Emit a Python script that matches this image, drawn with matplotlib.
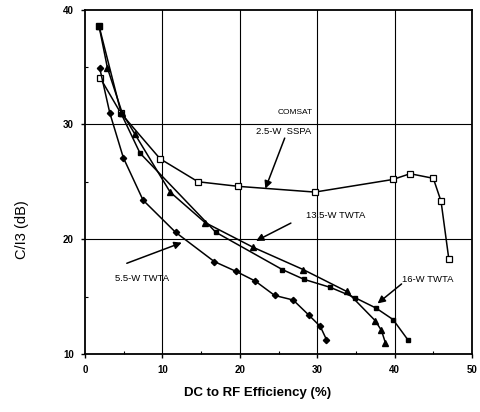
import matplotlib
matplotlib.use("Agg")
import matplotlib.pyplot as plt

plt.rcParams["font.family"] = ["Liberation Sans", "DejaVu Sans"]

# 2.5-W SSPA (open squares)
sspa_x = [2.0, 4.6, 9.7, 14.6, 19.8, 29.7, 39.8, 42.0, 45.0, 46.0, 47.0]
sspa_y = [34.0, 31.0, 27.0, 25.0, 24.6, 24.1, 25.2, 25.7, 25.3, 23.3, 18.3]

# 5.5-W TWTA (filled diamonds)
t55_x = [1.9, 3.2, 4.95, 7.5, 11.7, 16.7, 19.5, 22.0, 24.5, 26.9, 28.9, 30.4, 31.2]
t55_y = [34.9, 31.0, 27.1, 23.4, 20.6, 18.05, 17.2, 16.35, 15.1, 14.7, 13.4, 12.4, 11.25]

# 13.5-W TWTA (filled triangles)
t135_x = [1.8, 2.9, 4.8, 6.4, 11.0, 15.5, 21.7, 28.2, 33.8, 37.5, 38.3, 38.8]
t135_y = [38.6, 34.9, 31.0, 29.2, 24.1, 21.45, 19.3, 17.35, 15.45, 12.9, 12.05, 11.0]

# 16-W TWTA (filled squares)
t16_x = [1.8, 4.7, 7.1, 16.9, 25.5, 28.3, 31.7, 34.9, 37.6, 39.8, 41.7]
t16_y = [38.6, 30.9, 27.5, 20.6, 17.35, 16.5, 15.8, 14.9, 14.0, 13.0, 11.25]

# label text, text position, arrow tip, arrow start
labels = [
    ("2.5-W  SSPA", (25.7, 29.4), (23.3, 24.4), (25.8, 28.8)),
    ("13.5-W TWTA", (32.4, 22.1), (22.1, 19.85), (26.6, 21.4)),
    ("16-W TWTA", (44.3, 16.5), (37.8, 14.4), (40.9, 16.1)),
    ("5.5-W TWTA", (7.4, 16.6), (12.5, 19.7), (5.4, 17.9)),
]

fig = plt.figure(figsize=(4.81, 4.12), dpi=100)
ax = fig.add_axes([85 / 481, 1 - 354 / 412, 387 / 481, 344.5 / 412])

lk = dict(color="black", lw=1.1)
ax.plot(sspa_x, sspa_y, marker="s", ms=3.8, mfc="white", mec="black", mew=0.9, **lk)
ax.plot(t55_x, t55_y, marker="D", ms=3.2, mfc="black", mec="black", **lk)
ax.plot(t135_x, t135_y, marker="^", ms=3.8, mfc="black", mec="black", **lk)
ax.plot(t16_x, t16_y, marker="s", ms=3.5, mfc="black", mec="black", **lk)
ax.plot(t16_x[0], t16_y[0], marker="s", ms=5, color="black")

ax.set_xlim(0, 50)
ax.set_ylim(10, 40)
ax.set_xticks([0, 10, 20, 30, 40, 50])
ax.set_yticks([10, 20, 30, 40])
ax.set_xticks([5, 15, 25, 35, 45], minor=True)
ax.set_yticks([15, 25, 35], minor=True)
ax.tick_params(which="major", direction="out", length=3, width=1, labelsize=7, pad=5)
ax.tick_params(which="minor", direction="in", length=2, width=0.8)
for lab in ax.get_xticklabels() + ax.get_yticklabels():
    lab.set_fontweight("bold")

for x in [10, 20, 30, 40]:
    ax.axvline(x, color="black", lw=0.8, zorder=0)
for y in [20, 30]:
    ax.axhline(y, color="black", lw=0.8, zorder=0)
for s in ax.spines.values():
    s.set_linewidth(1.3)

ax.text(27.1, 31.0, "COMSAT", fontsize=6, ha="center", va="center")
for txt, pos, tip, start in labels:
    ax.text(pos[0], pos[1], txt, fontsize=6.8, ha="center", va="center")
    ax.annotate("", xy=tip, xytext=start,
                arrowprops=dict(arrowstyle="-|>", color="black", lw=1.1,
                                mutation_scale=11, shrinkA=0, shrinkB=0))

fig.text(22 / 481, 1 - 230 / 412, "C/I3 (dB)", rotation=90, fontsize=10.5,
         ha="center", va="center")
fig.text(258 / 481, 1 - 393 / 412, "DC to RF Efficiency (%)", fontsize=9.5,
         fontweight="bold", ha="center", va="center")

fig.savefig("out.png", dpi=100)
